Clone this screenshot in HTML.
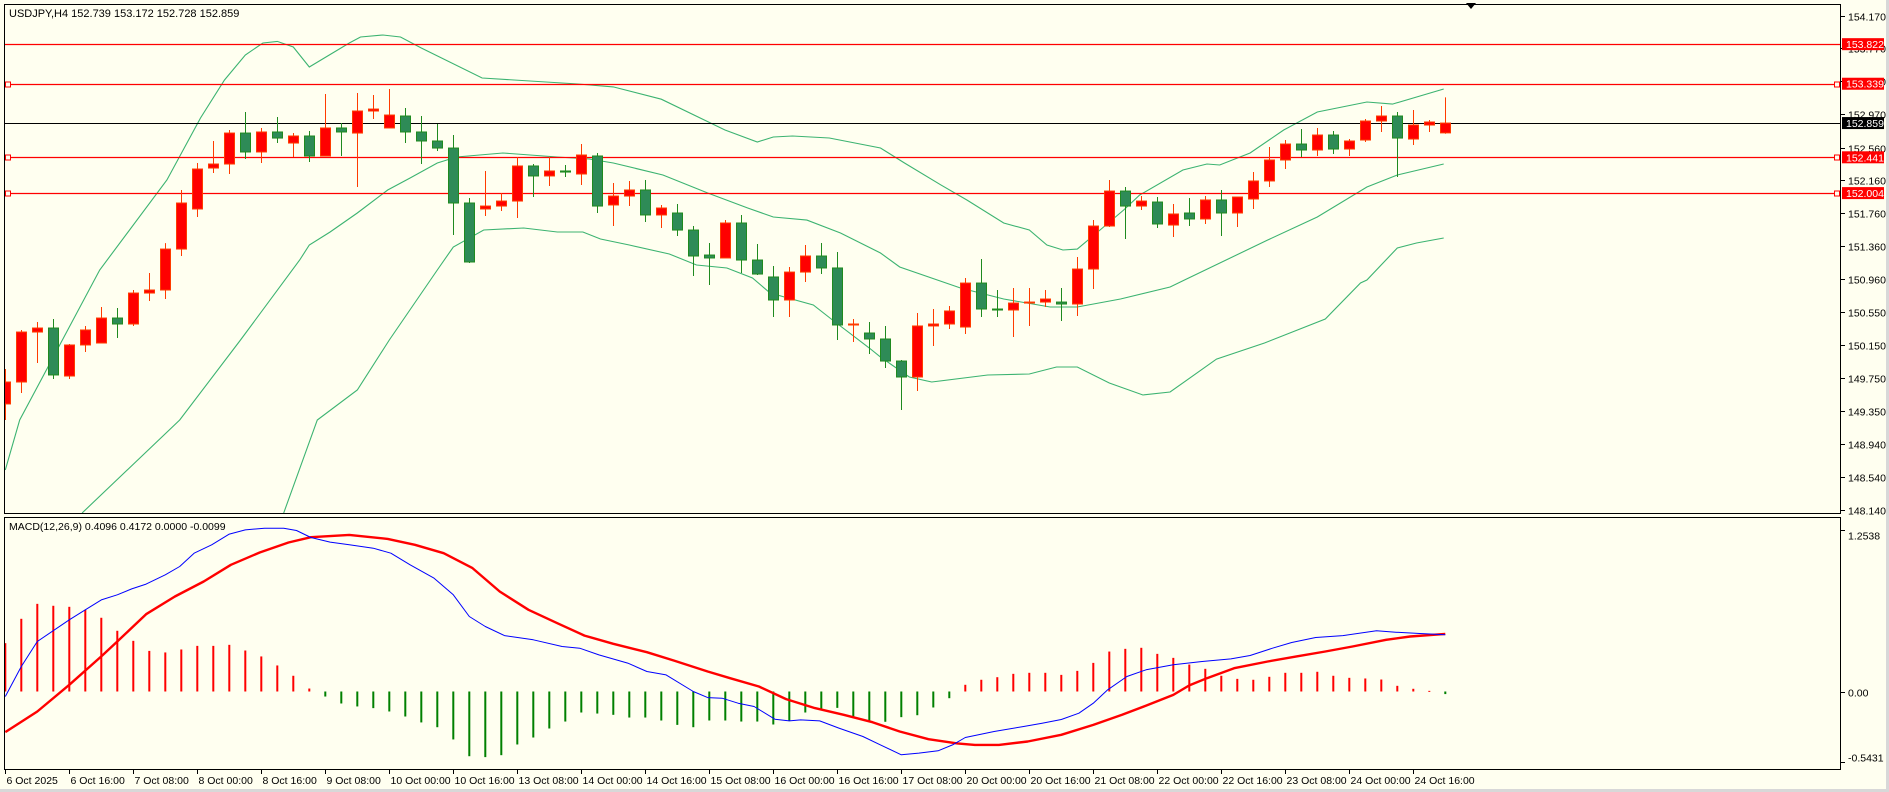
<!DOCTYPE html>
<html><head><meta charset="utf-8"><title>USDJPY H4</title>
<style>
html,body{margin:0;padding:0;background:#f0f0f0;}
svg{display:block;font-family:"Liberation Sans",sans-serif;}
</style></head>
<body>
<svg id="chart" width="1889" height="792" viewBox="0 0 1889 792" xmlns="http://www.w3.org/2000/svg">
<rect x="0" y="0" width="1889" height="792" fill="#fffff0"/>
<rect x="1886" y="0" width="3" height="792" fill="#d8d8d8"/>
<rect x="0" y="789" width="1889" height="3" fill="#d8d8d8"/>
<defs>
<clipPath id="mainClip"><rect x="5" y="5" width="1836" height="508"/></clipPath>
<clipPath id="macdClip"><rect x="5" y="518" width="1836" height="251"/></clipPath>
</defs>
<g id="mainPanel"></g>
<g id="macdPanel"></g>
<g id="axes"></g>
<rect x="4.5" y="4.5" width="1836" height="509" fill="none" stroke="#000"/>
<rect x="4.5" y="517.5" width="1836" height="252" fill="none" stroke="#000"/>
<text x="9" y="17" font-size="11" fill="#000">USDJPY,H4  152.739 153.172 152.728 152.859</text>
<text x="9" y="530" font-size="10.5" fill="#000">MACD(12,26,9) 0.4096 0.4172 0.0000 -0.0099</text>
<polygon points="1466,3 1476,3 1471,9" fill="#000"/>
</svg>
<script>
const opens=[149.430,149.698,150.308,150.357,149.771,150.150,150.174,150.479,150.406,150.784,150.821,151.321,151.810,152.310,152.359,152.737,152.506,152.750,152.615,152.701,152.457,152.799,152.737,153.006,152.799,152.945,152.750,152.640,152.554,151.883,151.810,151.846,151.907,152.335,152.213,152.274,152.237,152.457,151.859,151.968,152.042,151.737,151.761,151.553,151.248,151.212,151.639,151.187,150.980,150.699,151.040,151.236,151.090,150.394,150.296,150.223,149.954,149.759,150.382,150.406,150.369,150.906,150.589,150.577,150.662,150.674,150.674,150.650,151.077,151.602,152.029,151.846,151.895,151.614,151.761,151.688,151.920,151.761,151.932,152.152,152.408,152.603,152.530,152.713,152.542,152.652,152.884,152.945,152.664,152.835,152.739];
const highs=[149.857,150.333,150.430,150.467,150.162,150.382,150.613,150.601,150.821,151.028,151.394,152.042,152.371,152.640,152.774,152.994,152.798,152.933,152.737,152.762,153.214,152.860,153.226,153.201,153.275,153.043,152.945,152.847,152.713,151.944,152.274,152.005,152.445,152.359,152.445,152.347,152.603,152.493,152.127,152.152,152.164,151.859,151.871,151.602,151.395,151.675,151.737,151.383,151.114,151.102,151.370,151.395,151.285,150.467,150.430,150.382,149.966,150.540,150.589,150.626,150.967,151.199,150.821,150.845,150.845,150.821,150.845,151.224,151.675,152.164,152.078,151.968,151.956,151.871,151.944,151.968,152.042,151.956,152.261,152.567,152.652,152.786,152.798,152.762,152.664,152.908,153.067,152.994,153.018,152.896,153.172];
const lows=[149.234,149.564,149.930,149.735,149.735,150.064,150.174,150.235,150.382,150.687,150.711,151.236,151.712,152.249,152.237,152.420,152.371,152.615,152.445,152.383,152.457,152.457,152.078,152.908,152.799,152.615,152.359,152.518,151.492,151.151,151.724,151.785,151.700,151.956,152.090,152.200,152.103,151.761,151.602,151.846,151.651,151.578,151.480,150.992,150.882,151.212,151.028,151.004,150.491,150.491,150.919,151.016,150.211,150.186,150.040,149.869,149.356,149.588,150.137,150.345,150.284,150.491,150.491,150.247,150.382,150.613,150.443,150.504,150.833,151.590,151.444,151.798,151.578,151.468,151.602,151.627,151.480,151.590,151.810,152.078,152.298,152.445,152.457,152.481,152.457,152.628,152.750,152.200,152.591,152.750,152.728];
const closes=[149.698,150.308,150.357,149.784,150.150,150.333,150.479,150.406,150.784,150.821,151.321,151.883,152.298,152.359,152.737,152.506,152.750,152.676,152.701,152.457,152.799,152.750,153.006,153.030,152.957,152.750,152.640,152.554,151.883,151.163,151.846,151.907,152.335,152.213,152.274,152.261,152.469,151.846,151.968,152.042,151.737,151.822,151.553,151.236,151.212,151.639,151.187,151.016,150.699,151.040,151.236,151.090,150.394,150.406,150.223,149.954,149.759,150.382,150.406,150.565,150.906,150.589,150.577,150.662,150.674,150.711,150.650,151.077,151.602,152.029,151.846,151.907,151.627,151.749,151.688,151.920,151.761,151.956,152.152,152.408,152.603,152.530,152.713,152.542,152.640,152.884,152.945,152.676,152.835,152.872,152.859];
const upperBand=[[0,148.624],[0.9,149.234],[5.9,151.065],[10.1,152.164],[12.2,152.921],[13.7,153.385],[15.0,153.690],[16.1,153.836],[17.0,153.856],[18.0,153.787],[19.0,153.543],[21.5,153.836],[22.2,153.909],[23.6,153.934],[24.7,153.909],[26.0,153.775],[29.8,153.409],[35.8,153.336],[38,153.30],[41,153.15],[44.98,152.774],[47.0,152.628],[48.0,152.689],[49.2,152.701],[51.5,152.676],[54.7,152.554],[56.2,152.371],[58.5,152.10],[60.1,151.920],[62.4,151.639],[64.0,151.553],[65.1,151.370],[66.1,151.309],[67.0,151.321],[68.2,151.517],[69.9,151.798],[70.9,151.981],[73.6,152.286],[75.1,152.359],[75.9,152.347],[77.8,152.493],[79.9,152.774],[82.0,152.994],[85.1,153.116],[86.7,153.091],[89.9,153.275]];
const middleBand=[[4.8,148.099],[10.9,149.234],[14.7,150.211],[18.4,151.187],[19.0,151.370],[20.3,151.529],[22.0,151.761],[23.9,152.042],[25.3,152.188],[27.0,152.371],[28.2,152.445],[31.1,152.493],[34.5,152.445],[36.5,152.420],[38.0,152.371],[41.1,152.225],[43.9,152.005],[46.4,151.822],[48.0,151.712],[50.1,151.675],[52.2,151.517],[54.7,151.273],[55.9,151.102],[59.7,150.845],[62.4,150.711],[65.3,150.613],[67.0,150.613],[69.7,150.711],[72.8,150.858],[73.7,150.943],[78.9,151.431],[82.0,151.712],[85.1,152.078],[87.0,152.225],[89.9,152.359]];
const lowerBand=[[17.4,148.099],[19.5,149.234],[22.0,149.600],[24.0,150.211],[27.0,151.065],[28.0,151.346],[29.9,151.553],[32.4,151.578],[34.5,151.529],[36.1,151.529],[37.2,151.444],[39.0,151.370],[41.5,151.260],[43.2,151.126],[45.1,151.090],[46.7,150.967],[47.8,150.784],[50.5,150.638],[51.7,150.455],[54.0,150.113],[54.7,150.003],[56.5,149.759],[57.9,149.698],[61.4,149.783],[64.0,149.796],[65.7,149.881],[67.0,149.881],[69.0,149.686],[71.1,149.539],[72.8,149.576],[75.7,149.978],[78.7,150.174],[82.5,150.467],[84.7,150.907],[85.1,150.943],[87.0,151.334],[88.2,151.395],[89.9,151.456]];
const histogram=[0.375,0.564,0.680,0.665,0.657,0.634,0.572,0.471,0.393,0.315,0.303,0.326,0.354,0.354,0.362,0.318,0.272,0.202,0.122,0.023,-0.039,-0.093,-0.116,-0.129,-0.155,-0.194,-0.240,-0.277,-0.372,-0.502,-0.509,-0.494,-0.411,-0.357,-0.287,-0.233,-0.163,-0.171,-0.181,-0.202,-0.202,-0.225,-0.259,-0.277,-0.225,-0.225,-0.233,-0.233,-0.256,-0.228,-0.163,-0.134,-0.127,-0.197,-0.225,-0.235,-0.199,-0.184,-0.124,-0.052,0.052,0.091,0.111,0.137,0.145,0.145,0.129,0.160,0.222,0.310,0.331,0.339,0.292,0.261,0.209,0.176,0.122,0.098,0.091,0.114,0.145,0.145,0.153,0.122,0.106,0.101,0.093,0.044,0.021,0.005,-0.02];
const macdLine=[[0,-0.039],[1.0,0.194],[2.0,0.388],[4.0,0.556],[5.0,0.634],[6.0,0.711],[7.0,0.750],[7.9,0.796],[8.8,0.833],[10.0,0.905],[10.9,0.970],[11.8,1.073],[12.9,1.138],[14.0,1.221],[15.0,1.254],[16.2,1.267],[17.4,1.267],[18.2,1.249],[19.1,1.195],[20.3,1.159],[21.5,1.138],[23.0,1.112],[24.1,1.073],[25.3,0.983],[26.8,0.879],[28.0,0.750],[29.0,0.582],[30.0,0.504],[31.2,0.434],[33.0,0.401],[34.8,0.349],[35.9,0.336],[37.1,0.284],[38.9,0.220],[40.1,0.155],[41.3,0.129],[43.0,0.000],[43.9,-0.047],[44.8,-0.052],[45.8,-0.091],[46.8,-0.116],[48.1,-0.215],[49.0,-0.228],[49.7,-0.220],[50.9,-0.228],[52.1,-0.284],[53.6,-0.349],[54.7,-0.414],[56.0,-0.491],[57.1,-0.478],[58.3,-0.460],[59.2,-0.414],[60.0,-0.357],[61.8,-0.310],[63.6,-0.272],[64.8,-0.246],[66.0,-0.217],[67.1,-0.168],[68.0,-0.091],[68.9,0.013],[70.1,0.116],[71.3,0.168],[73.0,0.207],[74.8,0.233],[76.6,0.253],[77.8,0.279],[79.2,0.336],[80.4,0.380],[81.9,0.419],[83.6,0.434],[85.7,0.471],[86.9,0.460],[88.4,0.450],[90.0,0.440]];
const signalLine=[[0,-0.315],[2.0,-0.155],[4.0,0.052],[6.0,0.272],[7.0,0.388],[8.8,0.600],[10.6,0.737],[12.4,0.853],[14.1,0.983],[15.9,1.078],[17.7,1.156],[19.1,1.197],[21.5,1.215],[23.9,1.184],[25.6,1.138],[27.4,1.073],[29.2,0.957],[30.9,0.776],[32.7,0.634],[34.5,0.530],[36.2,0.434],[38.0,0.370],[40.1,0.305],[41.8,0.240],[43.9,0.155],[45.3,0.103],[47.1,0.039],[48.8,-0.059],[50.6,-0.129],[52.4,-0.181],[54.2,-0.238],[55.9,-0.310],[57.7,-0.370],[59.5,-0.403],[60.6,-0.414],[62.1,-0.414],[63.9,-0.388],[66.0,-0.336],[68.0,-0.259],[69.8,-0.181],[71.3,-0.109],[73.0,-0.026],[74.0,0.047],[75.1,0.103],[76.8,0.181],[78.9,0.233],[80.7,0.272],[82.5,0.310],[84.2,0.349],[86.3,0.401],[87.8,0.427],[90.0,0.447]];
const priceTicks=[154.170,153.770,153.370,152.970,152.560,152.160,151.760,151.360,150.960,150.550,150.150,149.750,149.350,148.940,148.540,148.140];
const redLevels=[153.822,153.339,152.441,152.004];
const lastPrice=152.859;
const macdTicks=[1.2538,0.00,-0.5431];
const dateLabels=["6 Oct 2025","6 Oct 16:00","7 Oct 08:00","8 Oct 00:00","8 Oct 16:00","9 Oct 08:00","10 Oct 00:00","10 Oct 16:00","13 Oct 08:00","14 Oct 00:00","14 Oct 16:00","15 Oct 08:00","16 Oct 00:00","16 Oct 16:00","17 Oct 08:00","20 Oct 00:00","20 Oct 16:00","21 Oct 08:00","22 Oct 00:00","22 Oct 16:00","23 Oct 08:00","24 Oct 00:00","24 Oct 16:00"];

const NS="http://www.w3.org/2000/svg";
function xBar(i){return 5.3+16*i;}
function yPrice(p){return 15.66+(154.17-p)*81.92;}
function yMacd(v){return 691.5-128.9*v;}
function mk(tag,attrs,parent){const e=document.createElementNS(NS,tag);for(const k in attrs)e.setAttribute(k,attrs[k]);parent.appendChild(e);return e;}

const main=document.getElementById('mainPanel');
const mg=mk('g',{'clip-path':'url(#mainClip)'},main);



function bandPath(arr,name){
  const d=arr.map((p,k)=>(k?'L':'M')+xBar(p[0]).toFixed(1)+' '+yPrice(p[1]).toFixed(1)).join(' ');
  const e=mk('path',{d:d,fill:'none',stroke:'#3cb371','stroke-width':1.1},mg);
  
  
}
bandPath(upperBand,'bollinger-upper');
bandPath(middleBand,'bollinger-middle');
bandPath(lowerBand,'bollinger-lower');

redLevels.forEach((lv,k)=>{
  const y=Math.round(yPrice(lv))+0.5;
  const l=mk('line',{x1:5,x2:1841,y1:y,y2:y,stroke:'#ff0000','stroke-width':1.2},mg);
  
  
  if(k>0){
    const a=mk('rect',{x:5.5,y:y-2.5,width:5,height:5,fill:'#fffff0',stroke:'#ff0000'},mg);
    
    
    const b=mk('rect',{x:1834.5,y:y-2.5,width:5,height:5,fill:'#fffff0',stroke:'#ff0000'},mg);
    
    
  }
});
{
  const y=Math.round(yPrice(lastPrice))+0.5;
  const l=mk('line',{x1:5,x2:1841,y1:y,y2:y,stroke:'#000','stroke-width':1},mg);
  
  
}

for(let i=0;i<opens.length;i++){
  const o=opens[i],c=closes[i],h=highs[i],lo=lows[i];
  const up=c>=o;
  const edge=up?'#ff3b00':'#1f8a1f';
  const fill=up?'#ff0000':'#2e8b57';
  const x=Math.round(xBar(i))+0.5;
  const g=mk('g',{},mg);
  
  
  mk('line',{x1:x,x2:x,y1:yPrice(h),y2:yPrice(lo),stroke:edge,'stroke-width':1},g);
  const yt=yPrice(Math.max(o,c)),yb=yPrice(Math.min(o,c));
  mk('rect',{x:x-5,y:yt,width:10,height:Math.max(yb-yt,1),fill:fill,stroke:edge,'stroke-width':1},g);
}

const macd=document.getElementById('macdPanel');
const qg=mk('g',{'clip-path':'url(#macdClip)'},macd);


histogram.forEach((v,i)=>{
  const x=xBar(i);
  const y0=yMacd(0),y1=yMacd(v);
  const r=mk('rect',{x:x-1,y:Math.min(y0,y1),width:2,height:Math.max(Math.abs(y1-y0),1),fill:v>=0?'#ff0000':'#008000'},qg);
  
  
});
function macdPath(arr,color,w,name){
  const d=arr.map((p,k)=>(k?'L':'M')+xBar(p[0]).toFixed(1)+' '+yMacd(p[1]).toFixed(1)).join(' ');
  const e=mk('path',{d:d,fill:'none',stroke:color,'stroke-width':w,'stroke-linejoin':'round'},qg);
  
  
}
macdPath(signalLine,'#ff0000',2.4,'macd-signal-line');
macdPath(macdLine,'#0000ff',1,'macd-main-line');

const ax=document.getElementById('axes');
priceTicks.forEach(p=>{
  const y=Math.round(yPrice(p))+0.5;
  mk('line',{x1:1841,x2:1845,y1:y,y2:y,stroke:'#000'},ax);
  const t=mk('text',{x:1848,y:y+4,'font-size':10.5,fill:'#000'},ax);
  t.textContent=p.toFixed(3);
  
  
});
function tag(p,bg,name){
  const y=yPrice(p);
  const r=mk('rect',{x:1842,y:y-6,width:42,height:12,fill:bg},ax);
  
  
  const t=mk('text',{x:1846,y:y+4,'font-size':10.5,fill:'#fff'},ax);
  t.textContent=p.toFixed(3);
  
  
}
redLevels.forEach(lv=>tag(lv,'#ff0000','level-price-tag'));
tag(lastPrice,'#000','last-price-tag');
macdTicks.forEach(v=>{
  const y=Math.round(yMacd(v))+0.5;
  mk('line',{x1:1841,x2:1845,y1:y,y2:y,stroke:'#000'},ax);
  const t=mk('text',{x:1848,y:v>1?y+9:(v<0?y-1:y+4),'font-size':10.5,fill:'#000'},ax);
  t.textContent=v===0?'0.00':v.toFixed(4);
  
  
});
dateLabels.forEach((s,k)=>{
  const x=Math.round(xBar(4*k))+0.5;
  mk('line',{x1:x,x2:x,y1:770,y2:774,stroke:'#000'},ax);
  const t=mk('text',{x:x+1,y:784,'font-size':10.5,fill:'#000'},ax);
  t.textContent=s;
  
  
});
</script>
</body></html>
